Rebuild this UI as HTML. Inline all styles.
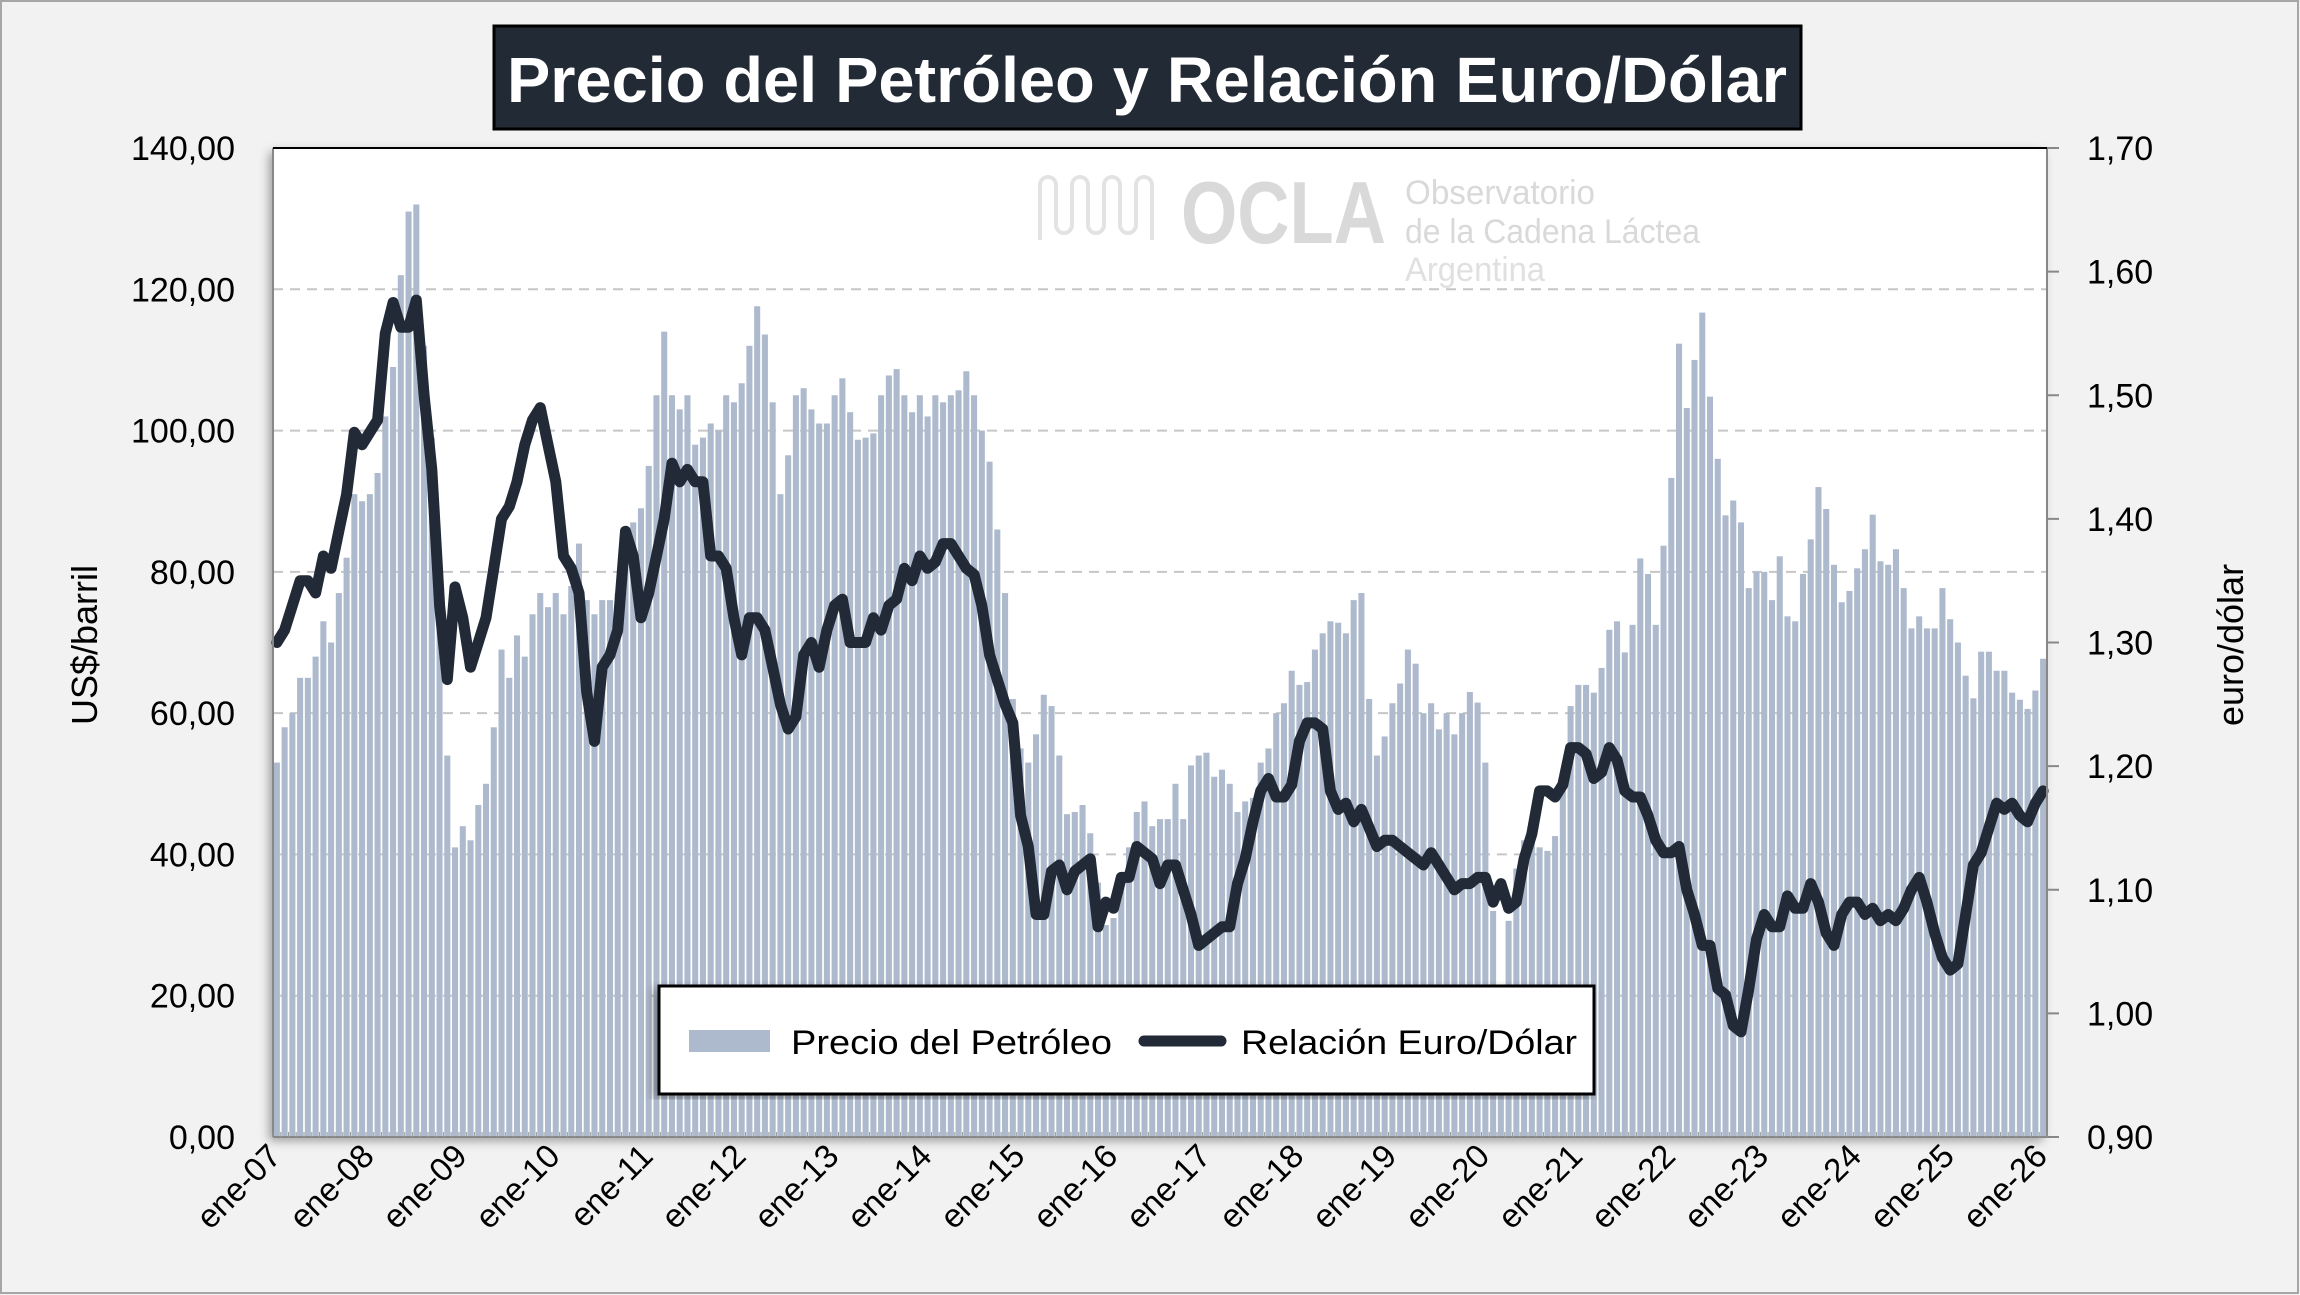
<!DOCTYPE html>
<html><head><meta charset="utf-8"><style>
html,body{margin:0;padding:0;background:#f2f2f2;}
svg{display:block;font-family:"Liberation Sans",sans-serif;}
</style></head><body>
<svg id="chart" width="2300" height="1295" viewBox="0 0 2300 1295" xmlns="http://www.w3.org/2000/svg">
<defs>
<filter id="sh" x="-5%" y="-5%" width="110%" height="110%"><feDropShadow dx="-4" dy="4" stdDeviation="5" flood-color="#000" flood-opacity="0.35"/></filter>
</defs>
<rect x="1" y="1" width="2297" height="1292" fill="#f2f2f2" stroke="#a6a6a6" stroke-width="2"/>
<g>
<rect x="494" y="26" width="1307" height="103" fill="#222a35" stroke="#000" stroke-width="3"/>
<text x="1147" y="102" text-anchor="middle" font-size="64" font-weight="bold" fill="#fff" textLength="1280" lengthAdjust="spacingAndGlyphs">Precio del Petróleo y Relación Euro/Dólar</text>
</g>
<rect x="273" y="148" width="1774" height="989" fill="#fff" filter="url(#sh)"/>
<g fill="#d9d9d9">
<path d="M1040 240 V185 a8 8 0 0 1 16 0 V225 a8 8 0 0 0 16 0 V185 a8 8 0 0 1 16 0 V225 a8 8 0 0 0 16 0 V185 a8 8 0 0 1 16 0 V225 a8 8 0 0 0 16 0 V185 a8 8 0 0 1 16 0 V240" fill="none" stroke="#e3e3e3" stroke-width="4"/>
<text x="1181" y="243" font-size="88" font-weight="bold" textLength="205" lengthAdjust="spacingAndGlyphs">OCLA</text>
<text x="1405" y="204" font-size="34" textLength="190" lengthAdjust="spacingAndGlyphs">Observatorio</text>
<text x="1405" y="243" font-size="34" textLength="295" lengthAdjust="spacingAndGlyphs">de la Cadena Láctea</text>
<text x="1405" y="281" font-size="34" fill="#e0e0e0" textLength="140" lengthAdjust="spacingAndGlyphs">Argentina</text>
</g>
<g id="grid"></g>
<g id="bars"></g>
<g id="line"></g>
<g id="axes"></g>
<g>
<rect x="659" y="986" width="935" height="108" fill="#fff" stroke="#000" stroke-width="3" filter="url(#sh)"/>
<rect x="689" y="1030" width="81" height="22" fill="#adb9cc"/>
<text x="791" y="1054" font-size="34" fill="#000" textLength="321" lengthAdjust="spacingAndGlyphs">Precio del Petróleo</text>
<line x1="1144" y1="1041" x2="1221" y2="1041" stroke="#212a36" stroke-width="11" stroke-linecap="round"/>
<text x="1241" y="1054" font-size="34" fill="#000" textLength="336" lengthAdjust="spacingAndGlyphs">Relación Euro/Dólar</text>
</g>
<text transform="translate(97,645) rotate(-90)" text-anchor="middle" font-size="36" fill="#000">US$/barril</text>
<text transform="translate(2243,645) rotate(-90)" text-anchor="middle" font-size="36" fill="#000">euro/dólar</text>
</svg>
<script>
const oilPrice = [
53,58,60,65,65,68,73,70,77,82,91,90,
91,94,102,109,122,131,132,112,99,76,54,41,
44,42,47,50,58,69,65,71,68,74,77,75,
77,74,78,84,76,74,76,76,77,82,87,89,
95,105,114,105,103,105,98,99,
101,100,105,104,106.7,112,117.6,113.6,104,91,96.5,105,106,103,101,101,105,107.4,102.6,98.7,99,99.6,105,107.8,108.7,105,102.6,105,102,105,104,105,105.7,108.4,105,100,95.6,86,77,
62,
55,53,57,62.6,61,54,45.7,46,47,43,36,30,31,36,41,46,47.5,
44,45,45,50,45,52.6,54,54.4,51,52,50,46,47.5,48,53,55,60,61.4,66,64,64.4,69,71.3,73,72.8,71.3,76,77,62,54,56.7,61.4,64.2,69,67,60,61.4,57.7,60,57,60,63,61.5,53,
32,20,30.6,38,42,44,41,40.5,42.6,49.5,61,64,64,
62.9,66.4,71.8,73,68.6,72.5,81.9,79.7,72.5,83.7,93.3,112.3,103.2,110,116.7,104.8,96,88,90.1,87,77.7,80,80,76,82.2,73.7,73,79.7,84.6,92,88.9,81,75.7,77.3,80.5,83.2,88.1,81.5,81,83.2,77.7,72,73.7,72,72,77.7,73.3,70,65.3,62.1,68.7,68.7,66,66,62.9,61.9,60.6,63.2,67.7
];
const euroDollar = [
1.30,1.31,1.33,1.35,1.35,1.34,1.37,1.36,1.39,1.42,1.47,1.46,
1.47,1.48,1.55,1.575,1.555,1.555,1.577,1.50,1.44,1.33,1.27,1.345,
1.32,1.28,1.30,1.32,1.36,1.40,1.41,1.43,1.46,1.48,1.49,1.46,
1.43,1.37,1.36,1.34,1.26,1.22,1.28,1.29,1.31,1.39,1.37,1.32,
1.34,1.37,1.40,1.445,1.43,1.44,1.43,1.43,1.37,1.37,1.36,1.32,
1.29,1.32,1.32,1.31,1.28,1.25,1.23,1.24,1.29,1.30,1.28,1.31,
1.33,1.335,1.30,1.30,1.30,1.32,1.31,1.33,1.335,1.36,1.35,1.37,
1.36,1.365,1.38,1.38,1.37,1.36,1.355,1.33,1.29,1.27,1.25,1.235,
1.16,1.135,1.08,1.08,1.115,1.12,1.10,1.115,1.12,1.125,1.07,1.09,
1.085,1.11,1.11,1.135,1.13,1.125,1.105,1.12,1.12,1.10,1.08,1.055,
1.06,1.065,1.07,1.07,1.105,1.125,1.155,1.18,1.19,1.175,1.175,1.185,
1.22,1.235,1.235,1.23,1.18,1.165,1.17,1.155,1.165,1.15,1.135,1.14,
1.14,1.135,1.13,1.125,1.12,1.13,1.12,1.11,1.10,1.105,1.105,1.11,
1.11,1.09,1.105,1.085,1.09,1.125,1.145,1.18,1.18,1.175,1.185,1.215,
1.215,1.21,1.19,1.195,1.215,1.205,1.18,1.175,1.175,1.16,1.14,1.13,
1.13,1.135,1.10,1.08,1.055,1.055,1.02,1.015,0.99,0.985,1.02,1.06,
1.08,1.07,1.07,1.095,1.085,1.085,1.105,1.09,1.065,1.055,1.08,1.09,
1.09,1.08,1.085,1.075,1.08,1.075,1.085,1.10,1.11,1.09,1.065,1.045,
1.035,1.04,1.08,1.12,1.13,1.15,1.17,1.165,1.17,1.16,1.155,1.17,
1.18
];
const leftTicks = [0,20,40,60,80,100,120,140];
const rightTicks = [0.9,1.0,1.1,1.2,1.3,1.4,1.5,1.6,1.7];
const yearLabels = ["ene-07","ene-08","ene-09","ene-10","ene-11","ene-12","ene-13","ene-14","ene-15","ene-16","ene-17","ene-18","ene-19","ene-20","ene-21","ene-22","ene-23","ene-24","ene-25","ene-26"];

const NS="http://www.w3.org/2000/svg";
const L=273,R=2047,T=148,B=1137;
const n=oilPrice.length;
const step=(R-L)/n;
const xC=i=>L+(i+0.5)*step;
const yL=v=>B-(v/140)*(B-T);
const yR=v=>B-((v-0.9)/0.8)*(B-T);
function mk(tag,attrs,parent){const e=document.createElementNS(NS,tag);for(const k in attrs)e.setAttribute(k,attrs[k]);parent.appendChild(e);return e;}
const grid=document.getElementById('grid'),bars=document.getElementById('bars'),line=document.getElementById('line'),axes=document.getElementById('axes');
leftTicks.forEach(v=>{
  if(v>0&&v<140){const g=mk('line',{x1:L,x2:R,y1:yL(v),y2:yL(v),stroke:'#c6c6c6','stroke-width':2,'stroke-dasharray':'10 7'},grid);
  
  }
  const t=mk('text',{x:235,y:yL(v)+12,'text-anchor':'end','font-size':34,fill:'#000'},axes);
  t.textContent=v.toFixed(2).replace('.',',');
  
  
});
rightTicks.forEach(v=>{
  const t=mk('text',{x:2087,y:yR(v)+12,'font-size':34,fill:'#000'},axes);
  t.textContent=v.toFixed(2).replace('.',',');
  
  
  mk('line',{x1:R,x2:R+12,y1:yR(v),y2:yR(v),stroke:'#888','stroke-width':2},axes);
});
const bw=step*0.78;
oilPrice.forEach((v,i)=>{
  const r=mk('rect',{x:xC(i)-bw/2,y:yL(v),width:bw,height:B-yL(v),fill:'#adb9cc'},bars);
  
  
});
const pts=euroDollar.map((v,i)=>xC(i).toFixed(1)+','+yR(v).toFixed(1)).join(' ');
const pl=mk('polyline',{points:pts,fill:'none',stroke:'#212a36','stroke-width':11,'stroke-linejoin':'round','stroke-linecap':'round'},line);


mk('line',{x1:L,x2:L,y1:T,y2:B,stroke:'#888','stroke-width':2},axes);
mk('line',{x1:R,x2:R,y1:T,y2:B,stroke:'#888','stroke-width':2},axes);
mk('line',{x1:L,x2:R,y1:B,y2:B,stroke:'#888','stroke-width':2},axes);
mk('line',{x1:L,x2:R,y1:T,y2:T,stroke:'#000','stroke-width':2},axes);
for(let i=0;i<=n;i++){mk('line',{x1:L+i*step,x2:L+i*step,y1:B,y2:B-5,stroke:'#999','stroke-width':1},axes);}
yearLabels.forEach((s,k)=>{
  const x=xC(k*12)+6,y=1158;
  const t=mk('text',{x:x,y:y,'text-anchor':'end','font-size':33,fill:'#000',transform:`rotate(-45 ${x} ${y})`},axes);
  t.textContent=s;
  
  
});
</script>
</body></html>
